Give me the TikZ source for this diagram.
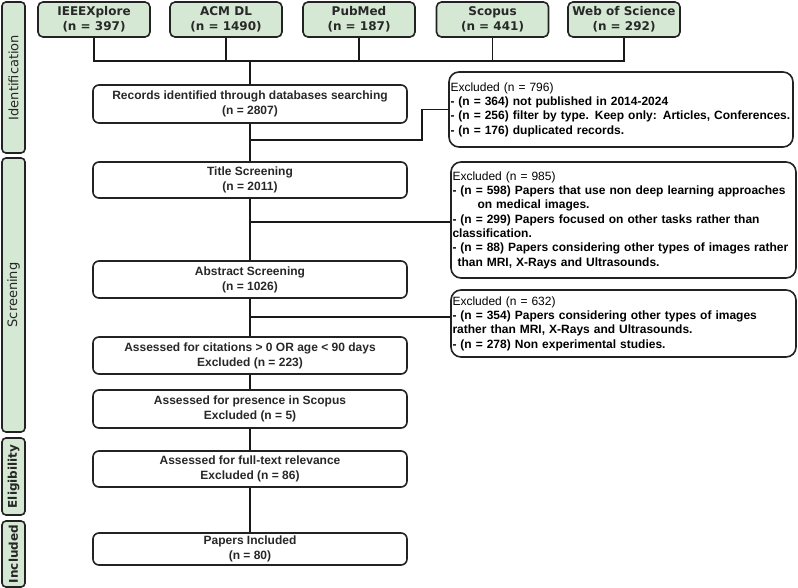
\documentclass[tikz,border=0pt]{standalone}
\usepackage{fontspec}
\setmainfont{Liberation Sans}
\newfontfamily\verd{DejaVu Sans}
\definecolor{pgreen}{RGB}{213,232,212}
\definecolor{edge}{RGB}{34,34,34}
\definecolor{txt}{RGB}{40,40,40}
\begin{document}
\begin{tikzpicture}[x=1pt,y=-1pt,
  src/.style={draw=edge, line width=1.6pt, fill=pgreen, rounded corners=5pt,
    minimum width=112pt, minimum height=35pt, inner sep=0pt, align=center,
    font=\verd\bfseries\fontsize{12}{15}\selectfont, text=txt},
  mainbox/.style={draw=edge, line width=1.6pt, rounded corners=6pt,
    minimum width=314pt, inner sep=0pt, align=center,
    font=\bfseries\fontsize{12}{15}\selectfont, text=txt},
  exbox/.style={draw=edge, line width=1.6pt, rounded corners=10pt,
    inner xsep=1.5pt, inner ysep=0pt, align=left,
    font=\fontsize{12}{14.3}\selectfont, text=black},
  phase/.style={draw=edge, line width=1.6pt, fill=pgreen, rounded corners=4pt,
    minimum height=23pt, inner sep=0pt, rotate=90,
    font=\verd\fontsize{13}{16}\selectfont, text=black!85},
  conn/.style={line width=1.5pt, draw=black!90}
]
\useasboundingbox (0,0) rectangle (798,588);
\fill[white] (0,0) rectangle (798,588);

% phase boxes
\node[phase, minimum width=151pt] (pid) at (13.5,77.5) {Identification};
\node[phase, minimum width=274pt] (psc) at (13.5,295) {Screening};
\node[phase, minimum width=77pt, font=\verd\bfseries\fontsize{12}{14}\selectfont] (pel) at (13.5,476.5) {Eligibility};
\node[phase, minimum width=66pt, font=\verd\bfseries\fontsize{12}{14}\selectfont] (pin) at (13.5,554) {Included};

% sources
\node[src] (s1) at (94,19.5) {IEEEXplore\\(n = 397)};
\node[src] (s2) at (226,19.5) {ACM DL\\(n = 1490)};
\node[src] (s3) at (359,19.5) {PubMed\\(n = 187)};
\node[src] (s4) at (492.5,19.5) {Scopus\\(n = 441)};
\node[src] (s5) at (624,19.5) {Web of Science\\(n = 292)};

% main flow
\node[mainbox, minimum height=38pt] (rec) at (250,104) {Records identified through databases searching\\(n = 2807)};
\node[mainbox, minimum height=36pt] (tit) at (250,180) {Title Screening\\(n = 2011)};
\node[mainbox, minimum height=37pt] (abs) at (250,279.5) {Abstract Screening\\(n = 1026)};
\node[mainbox, minimum height=37pt] (cit) at (250,355.5) {Assessed for citations > 0 OR age < 90 days\\Excluded (n = 223)};
\node[mainbox, minimum height=38pt] (sco) at (250,409) {Assessed for presence in Scopus\\Excluded (n = 5)};
\node[mainbox, minimum height=36pt] (ful) at (250,469) {Assessed for full-text relevance\\Excluded (n = 86)};
\node[mainbox, minimum height=32pt] (inc) at (250,549) {Papers Included\\(n = 80)};

% excluded boxes
\node[exbox, text width=341pt, minimum height=75pt] (e1) at (621,109.5) {Excluded (n = 796)\\
\textbf{- (n = 364) not published in 2014-2024}\\
\textbf{- (n = 256) filter by type. Keep only: Articles, Conferences.}\\
\textbf{- (n = 176) duplicated records.}};
\node[exbox, text width=342pt, minimum height=116pt] (e2) at (623.5,220) {Excluded (n = 985)\\
\textbf{- (n = 598) Papers that use non deep learning approaches}\\
\hspace*{25pt}\textbf{on medical images.}\\
\textbf{- (n = 299) Papers focused on other tasks rather than}\\
\textbf{classification.}\\
\textbf{- (n = 88) Papers considering other types of images rather}\\
\hspace*{5pt}\textbf{than MRI, X-Rays and Ultrasounds.}};
\node[exbox, text width=342pt, minimum height=67pt] (e3) at (623.5,323.5) {Excluded (n = 632)\\
\textbf{- (n = 354) Papers considering other types of images}\\
\textbf{rather than MRI, X-Rays and Ultrasounds.}\\
\textbf{- (n = 278) Non experimental studies.}};

% connectors
\coordinate (bus) at (250,61);
\draw[conn] (s1.south) |- (bus) -| (s5.south);
\draw[conn] (s2.south) -- (s2.south |- bus);
\draw[conn] (s3.south) -- (s3.south |- bus);
\draw[conn] (s4.south) -- (s4.south |- bus);
\draw[conn] (bus) -- (rec.north);
\draw[conn] (rec) -- (tit);
\draw[conn] (tit) -- (abs);
\draw[conn] (abs) -- (cit);
\draw[conn] (cit) -- (sco);
\draw[conn] (sco) -- (ful);
\draw[conn] (ful) -- (inc);
\coordinate (b1) at (250,140);
\coordinate (k1) at (422,140);
\draw[conn] (b1) -- (k1) |- (e1.west);
\coordinate (b2) at (250,222);
\draw[conn] (b2) -- (b2 -| e2.west);
\coordinate (b3) at (250,317);
\draw[conn] (b3) -- (b3 -| e3.west);
\end{tikzpicture}
\end{document}
